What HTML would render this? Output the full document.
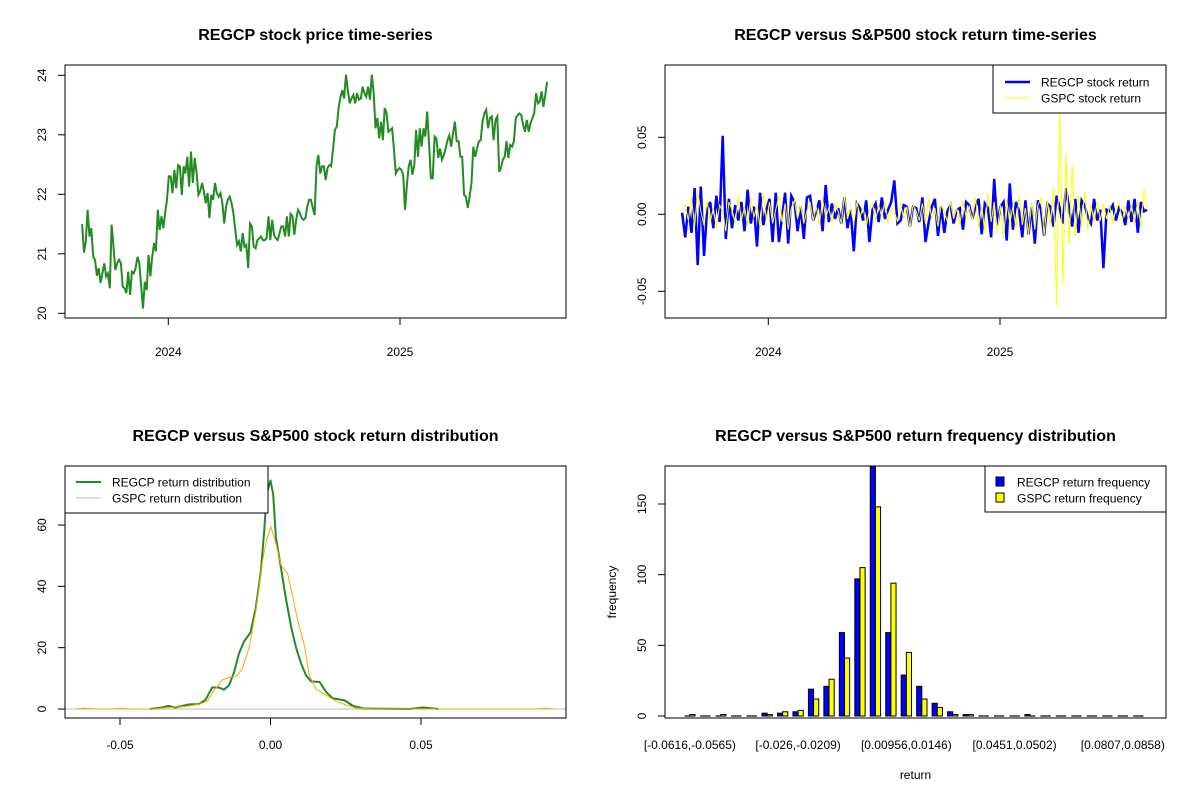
<!DOCTYPE html>
<html><head><meta charset="utf-8">
<style>
html,body{margin:0;padding:0;background:#fff;}
svg{display:block;font-family:"Liberation Sans",Arial,sans-serif;}
.t{font-size:16px;font-weight:bold;fill:#000;text-anchor:middle;}
.a{font-size:12px;fill:#000;}
</style></head>
<body>
<svg id="svg" width="1200" height="800" viewBox="0 0 1200 800"></svg>
<script>
// ---------- DATA ----------
const priceValues = [21.50,21.02,21.21,21.74,21.29,21.43,20.95,20.90,20.63,20.76,20.51,20.67,20.84,20.62,20.67,20.42,21.49,21.12,20.73,20.84,20.90,20.84,20.45,20.42,20.34,20.70,20.31,20.70,20.67,20.76,20.95,20.84,20.45,20.08,20.53,20.39,20.98,20.62,20.95,21.18,21.04,21.74,21.40,21.63,21.43,21.68,21.91,22.30,22.30,22.02,22.41,22.10,22.49,22.47,21.99,22.47,22.35,22.63,22.13,22.72,22.19,22.61,22.38,21.99,22.05,22.19,22.05,21.85,22.02,21.60,21.99,21.91,22.19,22.02,21.96,22.02,21.85,21.51,21.79,21.91,21.96,21.85,21.68,21.40,21.15,21.21,21.04,21.35,21.12,21.15,20.76,21.51,21.46,21.12,21.09,21.23,21.26,21.29,21.23,21.23,21.26,21.63,21.23,21.57,21.32,21.26,21.23,21.35,21.46,21.46,21.29,21.63,21.29,21.67,21.63,21.32,21.57,21.74,21.68,21.60,21.57,21.60,21.79,21.91,21.91,21.77,21.65,22.47,22.66,22.35,22.47,22.47,22.24,22.44,22.49,22.47,22.77,23.08,23.14,23.45,23.64,23.75,23.61,24.01,23.75,23.53,23.61,23.67,23.53,23.70,23.59,23.61,23.81,23.70,23.64,23.81,23.59,24.01,23.70,23.11,23.28,22.94,23.22,22.91,23.45,23.36,23.05,23.08,23.11,22.75,22.35,22.41,22.44,22.41,22.33,21.74,22.16,22.47,22.58,22.33,22.49,23.08,22.63,23.11,22.80,23.11,22.97,23.39,22.86,22.27,22.27,22.97,22.94,22.61,22.77,22.58,22.66,22.77,22.91,22.99,22.80,23.02,23.22,22.89,22.89,22.63,22.63,21.99,21.96,21.77,21.96,22.19,22.80,22.63,22.77,22.89,22.91,23.22,23.36,23.42,23.11,23.28,23.31,22.91,23.25,23.31,22.38,22.44,22.58,22.63,22.89,22.61,22.83,22.80,22.89,23.28,23.33,23.36,23.33,23.17,23.05,23.25,23.05,23.19,23.28,23.36,23.70,23.53,23.56,23.73,23.47,23.67,23.89];
const seriesStart = 2023.628, seriesEnd = 2025.635;
const yearTicks = [2024, 2025];
const priceTicks = [20, 21, 22, 23, 24];

const regcpReturns = [0.001,-0.015,0.005,-0.012,0.017,-0.033,0.018,-0.027,0.003,0.008,-0.009,0.012,-0.005,0.051,-0.016,0.01,-0.009,0.006,-0.004,0.008,-0.011,0.016,-0.006,0.005,-0.021,0.014,-0.007,0.003,0.01,-0.018,0.014,-0.018,-0.002,0.014,-0.019,0.012,0.008,-0.011,0.005,-0.016,0.011,0.012,-0.004,0.002,0.009,-0.011,0.019,-0.005,0.007,-0.003,0.004,-0.006,0.011,-0.009,0.003,-0.024,0.007,0.004,-0.004,0.009,-0.018,0.003,0.007,-0.005,0.011,-0.003,0.003,0.008,0.022,-0.006,-0.004,0.006,0.005,-0.008,0.005,0.004,-0.005,0.011,-0.018,-0.005,0.005,0.01,-0.014,0.005,-0.012,0.002,0.006,-0.006,0.003,0.004,-0.01,0.008,0.006,-0.003,0.005,0.01,-0.013,0.007,0.004,-0.015,0.023,-0.007,0.005,0.008,-0.017,0.02,-0.01,0.008,0.002,-0.015,0.009,-0.013,0.005,-0.019,0.009,0.003,-0.014,0.007,0.005,-0.008,0.012,0.004,-0.006,0.017,0.004,-0.008,0.01,-0.012,0.009,0.006,-0.002,-0.006,0.01,-0.004,0.003,-0.035,0.003,0.002,0.006,-0.004,0.004,0.001,-0.007,0.009,-0.005,0.01,-0.012,0.008,0.002,0.003];
const gspcReturns = [0.003,0.006,-0.004,0.011,-0.008,0.015,0.002,-0.007,0.009,-0.005,0.004,-0.009,0.006,0.002,-0.011,0.008,0.003,-0.006,0.012,-0.004,0.005,-0.008,0.011,-0.002,0.006,-0.009,0.014,-0.004,0.008,-0.006,0.003,0.012,-0.005,0.007,-0.01,0.004,0.009,-0.003,0.006,-0.006,0.002,0.008,-0.004,0.005,-0.007,0.01,-0.002,0.004,-0.005,0.007,0.002,-0.006,0.012,-0.003,0.004,-0.006,0.008,-0.002,0.005,-0.008,0.003,0.007,-0.004,0.006,-0.002,0.009,-0.006,0.004,0.002,-0.005,0.007,-0.003,0.005,-0.009,0.006,0.002,-0.004,0.007,-0.006,0.01,-0.003,0.004,-0.008,0.006,0.002,-0.005,0.008,-0.003,0.004,-0.007,0.009,-0.002,0.005,-0.004,0.011,-0.009,0.006,-0.012,0.014,-0.005,0.008,-0.011,0.006,-0.016,0.01,-0.006,0.005,-0.009,0.012,-0.007,0.004,-0.013,0.008,-0.01,0.006,0.011,-0.014,0.009,-0.008,0.018,-0.06,0.07,-0.045,0.04,-0.02,0.032,-0.015,0.012,-0.008,0.015,-0.01,0.006,-0.005,0.009,-0.004,0.007,-0.003,0.006,-0.006,0.004,0.008,-0.004,0.005,-0.003,0.006,-0.005,0.009,-0.009,0.016,0.003];
const returnTicks = [-0.05, 0, 0.05];
const returnTickLabels = ["-0.05", "0.00", "0.05"];

const regcpDensX = [-0.040,-0.036,-0.034,-0.0317,-0.027,-0.0238,-0.0216,-0.0194,-0.0171,-0.0155,-0.0138,-0.0121,-0.0105,-0.0088,-0.0066,-0.0049,-0.0032,-0.0021,-0.0013,0,0.0009,0.0018,0.0035,0.0051,0.0068,0.0085,0.0101,0.0118,0.0135,0.0163,0.0185,0.0207,0.0246,0.0274,0.0307,0.0352,0.0463,0.0508,0.0558];
const regcpDensY = [0,0.5,1,0.5,1.5,1.6,3,7,7,6.3,7.7,12,18,22,25,33,45,58,70,74.5,70,56,46,36,27,20,15,11,9,8.8,5.5,3.5,2.8,1,0.2,0.1,0,0.5,0];
const gspcDensX = [-0.065,-0.0617,-0.058,-0.0528,-0.0494,-0.0467,-0.039,-0.034,-0.0283,-0.0238,-0.021,-0.0188,-0.016,-0.0138,-0.0116,-0.0094,-0.0071,-0.0049,-0.0027,-0.0013,0.0001,0.0018,0.0035,0.0057,0.0073,0.009,0.0112,0.0129,0.0151,0.0185,0.0218,0.0252,0.0285,0.0352,0.0887,0.0909,0.0942];
const gspcDensY = [0,0.3,0,0,0.3,0,0,0.5,0.8,1.5,2.5,6,9.5,10.3,10.5,13,20,32,48,55,59.5,54,47,44,37,29,21,11,6.5,4.5,2.5,1.3,0.3,0,0,0.3,0];
const densXTicks = [-0.05, 0, 0.05];
const densXLabels = ["-0.05", "0.00", "0.05"];
const densYTicks = [0, 20, 40, 60];

const histRegcp = [0,0,0,0,0,2,2,3,19,21,59,97,178,59,29,21,9,3,1,0,0,0,1,0,0,0,0,0,0,0];
const histGspc  = [1,0,1,0,0,1,3,4,12,26,41,105,148,94,45,12,6,1,1,0,0,0,0,0,0,0,0,0,0,0];
const histLabelIdx = [0, 7, 14, 21, 28];
const histLabels = ["[-0.0616,-0.0565)", "[-0.026,-0.0209)", "[0.00956,0.0146)", "[0.0451,0.0502)", "[0.0807,0.0858)"];
const histYTicks = [0, 50, 100, 150];

// ---------- HELPERS ----------
const NS = "http://www.w3.org/2000/svg";
const svg = document.getElementById("svg");
function el(tag, attrs, parent, text) {
  const e = document.createElementNS(NS, tag);
  for (const k in attrs) e.setAttribute(k, attrs[k]);
  if (text !== undefined) e.textContent = text;
  (parent || svg).appendChild(e);
  return e;
}
function lin(d0, d1, r0, r1) { return v => r0 + (v - d0) * (r1 - r0) / (d1 - d0); }
function frame(L, T, R, B, name) {
  const r = el("rect", {x: L, y: T, width: R - L, height: B - T, fill: "none", stroke: "#000", "stroke-width": 1});
  
  
}
function title(x, y, s, name) {
  const t = el("text", {x: x, y: y, class: "t"}, svg, s);
  
  
}
function yAxis(L, ticks, labels, ys, name) {
  const g = el("g", {});
  
  
  ticks.forEach((v, i) => {
    const y = ys(v);
    el("line", {x1: L - 7, x2: L, y1: y, y2: y, stroke: "#000"}, g);
    const t = el("text", {x: 0, y: 0, class: "a", "text-anchor": "middle", transform: `translate(${L - 19},${y}) rotate(-90)`}, g, labels[i]);
    
    
  });
}
function xAxis(B, ticks, labels, xs, ly, name) {
  const g = el("g", {});
  
  
  ticks.forEach((v, i) => {
    const x = xs(v);
    el("line", {x1: x, x2: x, y1: B, y2: B + 7, stroke: "#000"}, g);
    const t = el("text", {x: x, y: ly, class: "a", "text-anchor": "middle"}, g, labels[i]);
    
    
  });
}
function timeOf(i, n) { return seriesStart + i * (seriesEnd - seriesStart) / (n - 1); }

// ---------- PANEL 1: price ----------
(function () {
  const L = 65, T = 65, R = 566, B = 318;
  const xs = lin(2024, 2025, 168.3, 400);
  const ys = lin(20, 24, 313.3, 75.3);
  title(315.5, 40, "REGCP stock price time-series", "price-chart-title");
  const pts = priceValues.map((v, i) => xs(timeOf(i, priceValues.length)).toFixed(1) + "," + ys(v).toFixed(1)).join(" ");
  const p = el("polyline", {points: pts, fill: "none", stroke: "#228B22", "stroke-width": 2});
  
  
  frame(L, T, R, B, "price-plot-frame");
  yAxis(L, priceTicks, priceTicks.map(String), ys, "price-y-axis");
  xAxis(B, yearTicks, yearTicks.map(String), xs, 356, "price-x-axis");
})();

// ---------- PANEL 2: returns ----------
(function () {
  const L = 665, T = 65, R = 1166, B = 318;
  const xs = lin(2024, 2025, 768.3, 1000);
  const ys = lin(0, 0.05, 214.3, 137.3);
  title(915.5, 40, "REGCP versus S&P500 stock return time-series", "return-chart-title");
  const p1 = el("polyline", {points: regcpReturns.map((v, i) => xs(timeOf(i, regcpReturns.length)).toFixed(1) + "," + ys(v).toFixed(1)).join(" "), fill: "none", stroke: "#0000FF", "stroke-width": 2.5});
  
  
  const p2 = el("polyline", {points: gspcReturns.map((v, i) => xs(timeOf(i, gspcReturns.length)).toFixed(1) + "," + ys(v).toFixed(1)).join(" "), fill: "none", stroke: "#FFFF00", "stroke-width": 1});
  
  
  frame(L, T, R, B, "return-plot-frame");
  yAxis(L, returnTicks, returnTickLabels, ys, "return-y-axis");
  xAxis(B, yearTicks, yearTicks.map(String), xs, 356, "return-x-axis");
  const lg = el("g", {});
  
  
  el("rect", {x: 993, y: 65, width: 173, height: 48, fill: "#fff", stroke: "#000"}, lg);
  el("line", {x1: 1005, x2: 1030, y1: 82, y2: 82, stroke: "#0000FF", "stroke-width": 2.5}, lg);
  el("line", {x1: 1005, x2: 1030, y1: 98, y2: 98, stroke: "#FFFF00", "stroke-width": 1}, lg);
  el("text", {x: 1041, y: 86.5, class: "a"}, lg, "REGCP stock return");
  el("text", {x: 1041, y: 102.5, class: "a"}, lg, "GSPC stock return");
})();

// ---------- PANEL 3: density ----------
(function () {
  const L = 65, T = 466, R = 566, B = 718;
  const xs = lin(0, 0.05, 270.5, 421);
  const ys = lin(0, 60, 709, 525);
  title(315.5, 441, "REGCP versus S&P500 stock return distribution", "density-chart-title");
  const z = el("line", {x1: L, x2: R, y1: ys(0), y2: ys(0), stroke: "#BEBEBE"});
  
  
  const g1 = el("polyline", {points: regcpDensX.map((v, i) => xs(v).toFixed(1) + "," + ys(regcpDensY[i]).toFixed(1)).join(" "), fill: "none", stroke: "#228B22", "stroke-width": 2, "stroke-linejoin": "round"});
  
  
  const g2 = el("polyline", {points: gspcDensX.map((v, i) => xs(v).toFixed(1) + "," + ys(gspcDensY[i]).toFixed(1)).join(" "), fill: "none", stroke: "#FFA500", "stroke-width": 1, "stroke-linejoin": "round"});
  
  
  frame(L, T, R, B, "density-plot-frame");
  yAxis(L, densYTicks, densYTicks.map(String), ys, "density-y-axis");
  xAxis(B, densXTicks, densXLabels, xs, 749, "density-x-axis");
  const lg = el("g", {});
  
  
  el("rect", {x: 65, y: 466, width: 203, height: 47, fill: "#fff", stroke: "#000"}, lg);
  el("line", {x1: 76, x2: 101, y1: 482, y2: 482, stroke: "#228B22", "stroke-width": 2}, lg);
  el("line", {x1: 76, x2: 101, y1: 498, y2: 498, stroke: "#BEBEBE", "stroke-width": 1}, lg);
  el("text", {x: 112, y: 486.5, class: "a"}, lg, "REGCP return distribution");
  el("text", {x: 112, y: 502.5, class: "a"}, lg, "GSPC return distribution");
})();

// ---------- PANEL 4: histogram ----------
(function () {
  const L = 665, T = 466, R = 1166, B = 718;
  const n = histRegcp.length;
  const units = 3 * n, ext = units * 0.04;
  const xu0 = lin(-ext, units + ext, L, R);
  const xu = u => xu0(u) - 4;
  const ys = lin(0, 150, 716, 504);
  title(915.5, 441, "REGCP versus S&P500 return frequency distribution", "histogram-chart-title");
  const clip = el("clipPath", {id: "hclip"});
  el("rect", {x: L, y: T, width: R - L, height: B - T}, clip);
  const bars = el("g", {"clip-path": "url(#hclip)"});
  
  
  function bar(u, v, color, name) {
    const x0 = xu(u), x1 = xu(u + 1);
    let b;
    if (v > 0) {
      b = el("rect", {x: x0, y: ys(v), width: x1 - x0, height: ys(0) - ys(v), fill: color, stroke: "#000", "stroke-width": 1}, bars);
    } else {
      b = el("line", {x1: x0, x2: x1, y1: ys(0), y2: ys(0), stroke: "#000", "stroke-width": 1.2}, bars);
    }
    
    
  }
  for (let i = 0; i < n; i++) {
    bar(3 * i + 1, histRegcp[i], "#0000FF", "regcp-bar");
    bar(3 * i + 2, histGspc[i], "#FFFF00", "gspc-bar");
  }
  frame(L, T, R, B, "histogram-plot-frame");
  yAxis(L, histYTicks, histYTicks.map(String), ys, "histogram-y-axis");
  histLabelIdx.forEach((k, j) => {
    const t = el("text", {x: xu(3 * k + 2), y: 749, class: "a", "text-anchor": "middle"}, svg, histLabels[j]);
    
    
  });
  const xt = el("text", {x: 915.5, y: 779, class: "a", "text-anchor": "middle"}, svg, "return");
  
  
  const yt = el("text", {x: 0, y: 0, class: "a", "text-anchor": "middle", transform: "translate(616,592) rotate(-90)"}, svg, "frequency");
  
  
  const lg = el("g", {});
  
  
  el("rect", {x: 985, y: 466, width: 181, height: 46, fill: "#fff", stroke: "#000"}, lg);
  el("rect", {x: 996, y: 477, width: 8, height: 9, fill: "#0000FF", stroke: "#000"}, lg);
  el("rect", {x: 996, y: 493, width: 8, height: 9, fill: "#FFFF00", stroke: "#000"}, lg);
  el("text", {x: 1017, y: 486.5, class: "a"}, lg, "REGCP return frequency");
  el("text", {x: 1017, y: 502.5, class: "a"}, lg, "GSPC return frequency");
})();
</script>
</body></html>
